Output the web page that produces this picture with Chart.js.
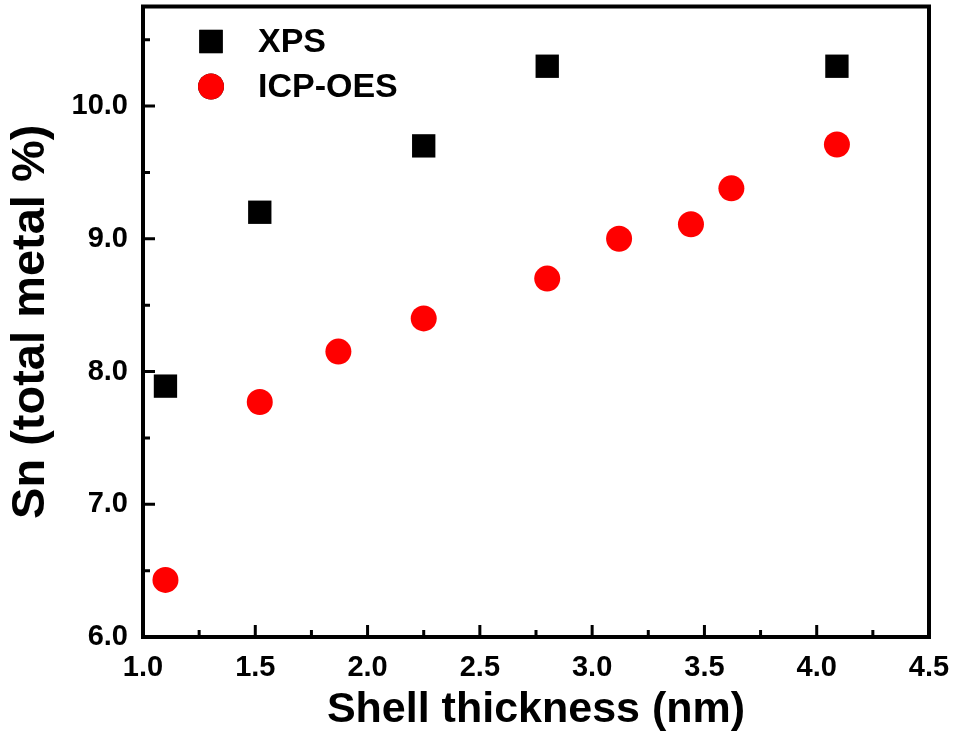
<!doctype html>
<html>
<head>
<meta charset="utf-8" />
<script src="https://cdn.jsdelivr.net/npm/chart.js"></script>
<style>
  html, body { margin: 0; padding: 0; background: #fff; overflow: hidden; }
  canvas { display: block; margin-top: -10px; }
</style>
</head>
<body>
<canvas id="chart" width="956" height="746"></canvas>
<script>
// values
const xpsThickness = [1.10, 1.52, 2.25, 2.80, 4.09];
const xpsSn = [7.89, 9.20, 9.70, 10.30, 10.30];
const icpThickness = [1.10, 1.52, 1.87, 2.25, 2.80, 3.12, 3.44, 3.62, 4.09];
const icpSn = [6.43, 7.77, 8.15, 8.40, 8.70, 9.00, 9.11, 9.38, 9.71];

const xTicks = [1.0, 1.25, 1.5, 1.75, 2.0, 2.25, 2.5, 2.75, 3.0, 3.25, 3.5, 3.75, 4.0, 4.25, 4.5];
const yTicks = [6.0, 6.5, 7.0, 7.5, 8.0, 8.5, 9.0, 9.5, 10.0, 10.5];
const seriesNames = ['XPS', 'ICP-OES'];

const FONT = '"Liberation Sans", Arial, sans-serif';
const isMajor = (v, step) => Math.abs(v / step - Math.round(v / step)) < 1e-6;

const pairs = (xs, ys) => xs.map((x, i) => ({ x, y: ys[i] }));

// frame, inward ticks and the legend in the top-left corner
const framePlugin = {
  id: 'frame',
  beforeDatasetsDraw(chart) {
    const { ctx, chartArea: a, scales } = chart;
    ctx.save();
    ctx.strokeStyle = '#000';
    ctx.lineWidth = 3;
    ctx.lineCap = 'butt';
    ctx.beginPath();
    for (const v of xTicks) {
      const px = scales.x.getPixelForValue(v);
      const len = isMajor(v, 0.5) ? 12 : 7;
      ctx.moveTo(px, a.bottom);
      ctx.lineTo(px, a.bottom - len);
    }
    for (const v of yTicks) {
      const py = scales.y.getPixelForValue(v);
      const len = isMajor(v, 1) ? 12 : 7;
      ctx.moveTo(a.left, py);
      ctx.lineTo(a.left + len, py);
    }
    ctx.stroke();
    ctx.lineWidth = 4;
    ctx.lineJoin = 'miter';
    ctx.strokeRect(a.left, a.top, a.right - a.left, a.bottom - a.top);
    ctx.restore();
  },
  afterDraw(chart) {
    const { ctx, chartArea: a } = chart;
    ctx.save();
    chart.data.datasets.forEach((ds, i) => {
      const cx = a.left + 68;
      const cy = a.top + 35 + i * 45;
      Chart.helpers.drawPoint(ctx, {
        pointStyle: ds.pointStyle,
        radius: ds.pointRadius,
        borderWidth: 0
      }, cx, cy);
      ctx.fillStyle = ds.backgroundColor;
      ctx.fill();
      ctx.fillStyle = '#000';
      ctx.font = 'bold 34px ' + FONT;
      ctx.textBaseline = 'middle';
      ctx.textAlign = 'left';
      ctx.fillText(ds.label, a.left + 115, cy + 1);
    });
    ctx.restore();
  }
};

new Chart(document.getElementById('chart'), {
  type: 'scatter',
  data: {
    datasets: [
      {
        label: seriesNames[0],
        data: pairs(xpsThickness, xpsSn),
        pointStyle: 'rect',
        pointRadius: 16.5,
        pointHoverRadius: 16.5,
        backgroundColor: '#000000',
        borderColor: '#000000',
        borderWidth: 0
      },
      {
        label: seriesNames[1],
        data: pairs(icpThickness, icpSn),
        pointStyle: 'circle',
        pointRadius: 13,
        pointHoverRadius: 13,
        backgroundColor: '#ff0000',
        borderColor: '#ff0000',
        borderWidth: 0
      }
    ]
  },
  options: {
    responsive: false,
    animation: false,
    devicePixelRatio: 1,
    clip: false,
    layout: { padding: { top: -5, right: 27, left: 0, bottom: 0 } },
    plugins: { legend: { display: false }, tooltip: { enabled: false } },
    scales: {
      x: {
        type: 'linear',
        min: 1.0,
        max: 4.5,
        afterBuildTicks: (s) => { s.ticks = xTicks.map((value) => ({ value })); },
        afterFit: (s) => { s.height = 99; s.paddingLeft = 0; s.paddingRight = 0; },
        grid: { display: false, drawTicks: false },
        border: { display: false },
        ticks: {
          autoSkip: false,
          maxRotation: 0,
          padding: 14,
          color: '#000',
          font: { family: FONT, size: 29, weight: 'bold' },
          callback: (v) => (isMajor(v, 0.5) ? v.toFixed(1) : '')
        },
        title: {
          display: true,
          text: 'Shell thickness (nm)',
          color: '#000',
          padding: 0,
          font: { family: FONT, size: 43, weight: 'bold', lineHeight: 1.2 }
        }
      },
      y: {
        type: 'linear',
        min: 6.0,
        max: 10.75,
        afterBuildTicks: (s) => { s.ticks = yTicks.map((value) => ({ value })); },
        afterFit: (s) => { s.width = 143; s.paddingTop = 0; s.paddingBottom = 0; },
        grid: { display: true, drawOnChartArea: false, drawTicks: true, tickLength: 12, color: 'rgba(0,0,0,0)' },
        border: { display: false },
        ticks: {
          autoSkip: false,
          padding: 3,
          color: '#000',
          font: { family: FONT, size: 29, weight: 'bold' },
          callback: (v) => (isMajor(v, 1) ? v.toFixed(1) : '')
        },
        title: {
          display: true,
          text: 'Sn (total metal %)',
          color: '#000',
          padding: { top: 3, bottom: 0 },
          font: { family: FONT, size: 47, weight: 'bold', lineHeight: 1.2 }
        }
      }
    }
  },
  plugins: [framePlugin]
});
</script>
</body>
</html>
